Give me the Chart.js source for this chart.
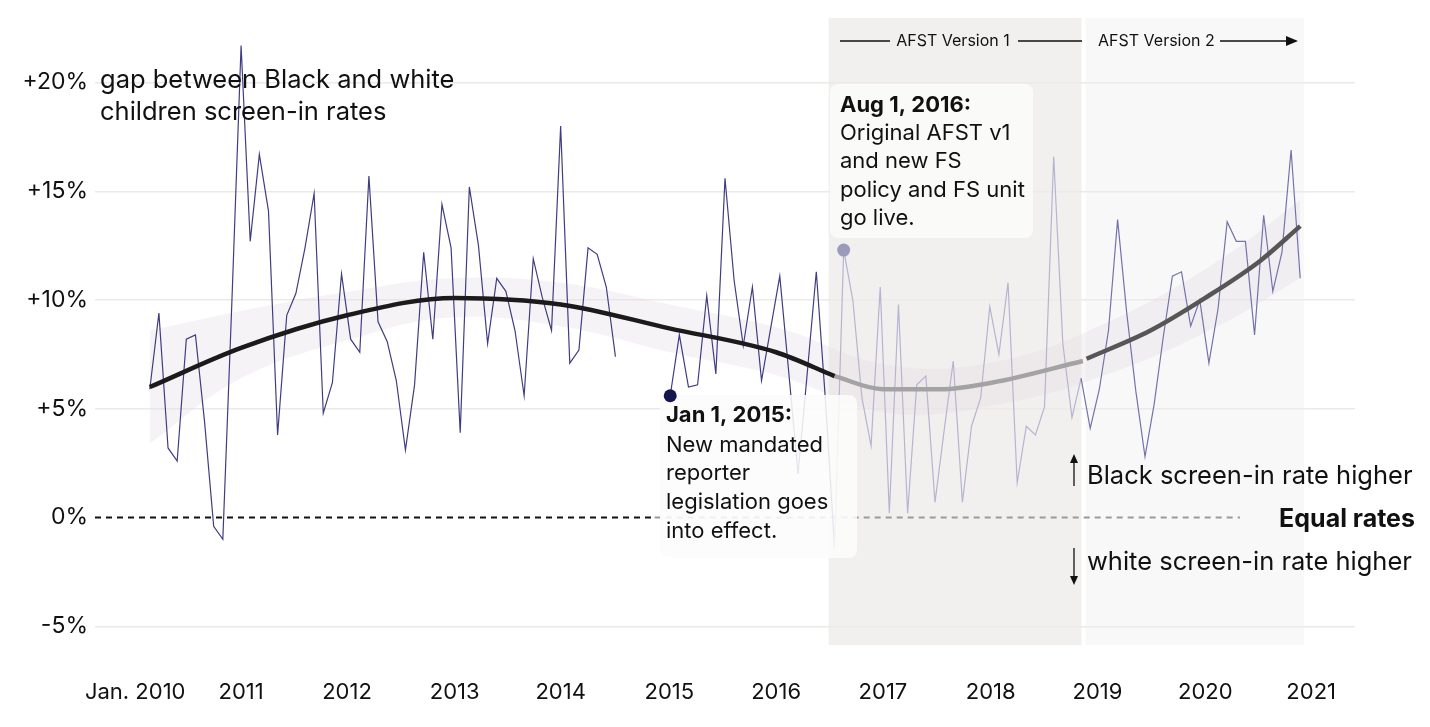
<!DOCTYPE html>
<html><head><meta charset="utf-8">
<script src="https://cdn.jsdelivr.net/npm/chart.js@4/dist/chart.umd.min.js"></script>
<style>html,body{margin:0;padding:0;background:#fff}#w{width:1430px;height:727px}</style>
</head><body><div id="w"><canvas id="c"></canvas></div>
<script>
// month index: 0 = Jan 2010
const early = [5.9,9.4,3.2,2.6,8.2,8.4,4.4,-0.4,-1.0,10.0,21.7,12.7,16.7,14.1,3.8,9.3,10.3,12.4,14.9,4.8,6.2,11.2,8.2,7.6,15.7,9.0,8.1,6.3,3.1,6.1,12.2,8.2,14.4,12.4,3.9,15.2,12.5,8.0,11.0,10.4,8.6,5.6,11.9,10.1,8.6,18.0,7.1,7.7,12.4,12.1,10.6,7.4]; // months 3..54
const earlyStart = 3;
const late = [5.6,8.4,6.0,6.1,10.2,6.6,15.6,10.9,7.9,10.6,6.3,8.7,11.1,6.6,2.0,6.6,11.3,5.4,-1.4,12.3,10.0,5.5,3.3,10.6,0.2,9.8,0.2,6.1,6.5,0.7,4.0,7.2,0.7,4.2,5.5,9.7,7.5,10.8,1.6,4.2,3.8,5.1,16.6,8.0,4.6,6.4,4.1,5.9,8.6,13.7,9.4,5.8,2.8,5.2,8.3,11.1,11.3,8.8,10.0,7.1,9.6,13.6,12.7,12.7,8.4,13.9,10.4,12.2,16.9,11.0]; // months 60..129
const lateStart = 60;
const trendA_x = [3,13,24.6,36.4,48,59.9,71.6,78];
const trendA_y = [6.0,7.8,9.3,10.1,9.8,8.7,7.6,6.5];
const trendB_x = [78,83.3,89.6,95.2,105.2];
const trendB_y = [6.5,5.9,5.9,6.2,7.2];
const trendC_x = [105.6,112.6,118.6,124.6,129];
const trendC_y = [7.3,8.6,10.1,11.8,13.4];
const band_x = [3,13,25,36,48,60,72,84,96,108,120,129];
const band_hi = [8.6,9.5,10.4,11.0,10.8,9.8,8.7,7.0,7.2,9.0,11.8,14.6];
const band_lo = [3.4,6.4,8.2,9.2,8.8,7.6,6.5,4.8,5.2,6.6,8.8,11.0];
const xTickLabels = ["Jan. 2010","2011","2012","2013","2014","2015","2016","2017","2018","2019","2020","2021"];
const xTickPos = [1.4,13.0,24.6,36.4,48.0,59.9,71.6,83.3,95.1,106.8,118.6,130.2];
const yTicks = [-5,0,5,10,15,20];
const yTickLabels = ["-5%","0%","+5%","+10%","+15%","+20%"];
const v1Start=78, v1End=105.05, v2Start=105.5, v2End=129;

const pts = (xs,ys)=>xs.map((x,i)=>({x,y:ys[i]}));
const gap = [];
early.forEach((v,i)=>gap.push({x:earlyStart+i,y:v}));
for(let m=earlyStart+early.length;m<lateStart;m++) gap.push({x:m,y:null});
late.forEach((v,i)=>gap.push({x:lateStart+i,y:v}));

const F = "Inter, 'Noto Sans', sans-serif";
const bgPlugin = {id:'bg', beforeDraw(ch){
  const {ctx,scales:{x}}=ch; const top=18,bot=645;
  ctx.save();
  ctx.fillStyle='#f1f0ef'; ctx.fillRect(x.getPixelForValue(v1Start)-6,top,x.getPixelForValue(v1End)-x.getPixelForValue(v1Start)+6,bot-top);
  ctx.fillStyle='#f8f8f9'; ctx.fillRect(x.getPixelForValue(v2Start),top,x.getPixelForValue(v2End)-x.getPixelForValue(v2Start)+4,bot-top);
  ctx.restore();
}};
function box(ctx,x,y,w,h){ctx.beginPath();ctx.roundRect(x,y,w,h,8);ctx.fill();}
const annPlugin = {id:'ann', afterDatasetsDraw(ch){
  const {ctx}=ch; ctx.save();
  ctx.fillStyle='rgba(250,250,249,0.88)'; box(ctx,830,84,203,154);
  ctx.fillStyle='rgba(252,252,252,0.88)'; box(ctx,660,395,197,163);
  ctx.fillStyle='#111'; ctx.textBaseline='middle'; ctx.textAlign='left';
  ctx.font="bold 22px "+F; ctx.fillText("Aug 1, 2016:",840,105);
  ctx.font="22px "+F; ["Original AFST v1","and new FS","policy and FS unit","go live."].forEach((t,i)=>ctx.fillText(t,840,133+i*28.6));
  ctx.font="bold 22px "+F; ctx.fillText("Jan 1, 2015:",666,415);
  ctx.font="22px "+F; ["New mandated","reporter","legislation goes","into effect."].forEach((t,i)=>ctx.fillText(t,666,445+i*28.7));
  const xs=ch.scales.x, ys=ch.scales.y;
  ctx.fillStyle='#16164e'; ctx.beginPath(); ctx.arc(xs.getPixelForValue(60),ys.getPixelForValue(late[0]),6.5,0,7); ctx.fill();
  ctx.fillStyle='#9c9aba'; ctx.beginPath(); ctx.arc(xs.getPixelForValue(79),ys.getPixelForValue(late[19]),6.5,0,7); ctx.fill();
  ctx.fillStyle='#111'; ctx.font="25.5px "+F;
  ctx.fillText("gap between Black and white",100,80); ctx.fillText("children screen-in rates",100,112);
  ctx.font="16px "+F; ctx.textAlign='center'; ctx.fillText("AFST Version 1",953,41);
  ctx.textAlign='left'; ctx.fillText("AFST Version 2",1098,41);
  ctx.strokeStyle='#111'; ctx.lineWidth=1.3; ctx.beginPath();
  ctx.moveTo(840,41);ctx.lineTo(890,41);ctx.moveTo(1018,41);ctx.lineTo(1082,41);ctx.moveTo(1220,41);ctx.lineTo(1288,41);ctx.stroke();
  ctx.fillStyle='#111'; ctx.beginPath(); ctx.moveTo(1298,41);ctx.lineTo(1286,36);ctx.lineTo(1286,46);ctx.closePath();ctx.fill();
  ctx.font="25.5px "+F; ctx.fillText("Black screen-in rate higher",1087,476); ctx.fillText("white screen-in rate higher",1087,562);
  ctx.font="bold 25px "+F; ctx.textAlign='right'; ctx.fillText("Equal rates",1415,519);
  ctx.beginPath(); ctx.moveTo(1074,486);ctx.lineTo(1074,460);ctx.moveTo(1074,548);ctx.lineTo(1074,578);ctx.stroke();
  ctx.beginPath();ctx.moveTo(1074,454);ctx.lineTo(1070,463);ctx.lineTo(1078,463);ctx.closePath();ctx.fill();
  ctx.beginPath();ctx.moveTo(1074,585);ctx.lineTo(1070,576);ctx.lineTo(1078,576);ctx.closePath();ctx.fill();
  ctx.restore();
}};

new Chart(document.getElementById('c'),{
  type:'line',
  data:{datasets:[
    {data:pts(band_x,band_lo),borderWidth:0,pointRadius:0,tension:0.4,fill:false,order:10},
    {data:pts(band_x,band_hi),borderWidth:0,pointRadius:0,tension:0.4,fill:'-1',backgroundColor:'rgba(228,222,228,0.35)',order:9},
    {data:[{x:-3,y:0},{x:58.3,y:0}],borderColor:'#111',borderWidth:2,borderDash:[6,5],pointRadius:0,order:5},
    {data:[{x:58.3,y:0},{x:122.4,y:0}],borderColor:'#9a9a9a',borderWidth:2,borderDash:[6,5],pointRadius:0,order:5},
    {data:gap,borderWidth:1.2,pointRadius:0,spanGaps:false,borderColor:'#3f3d82',order:3,
      segment:{borderColor:c=>c.p0.parsed.x>=105?'#7472aa':(c.p0.parsed.x>=78?'#b6b4d0':'#3f3d82')}},
    {data:pts(trendA_x,trendA_y),borderColor:'#1c1a1a',borderWidth:4.5,pointRadius:0,cubicInterpolationMode:'monotone',borderCapStyle:'butt',order:0},
    {data:pts(trendB_x,trendB_y),borderColor:'#a4a3a3',borderWidth:4.5,pointRadius:0,cubicInterpolationMode:'monotone',borderCapStyle:'butt',order:0},
    {data:pts(trendC_x,trendC_y),borderColor:'#575656',borderWidth:4.5,pointRadius:0,cubicInterpolationMode:'monotone',borderCapStyle:'butt',order:0}
  ]},
  options:{
    responsive:true,maintainAspectRatio:false,animation:false,
    layout:{padding:{top:18,right:75,left:0,bottom:0}},
    plugins:{legend:{display:false},tooltip:{enabled:false}},
    scales:{
      x:{type:'linear',min:-3,max:135,
        afterBuildTicks:s=>{s.ticks=xTickPos.map(v=>({value:v}));},
        afterFit:s=>{s.height=82;},
        grid:{display:false},border:{display:false},
        ticks:{autoSkip:false,maxRotation:0,padding:26,color:'#111',font:{family:F,size:22},
          callback:(v,i)=>xTickLabels[i]}},
      y:{min:-5.86,max:22.84,
        afterBuildTicks:s=>{s.ticks=yTicks.map(v=>({value:v}));},
        afterFit:s=>{s.width=95;},
        border:{display:false},
        grid:{color:c=>c.tick&&c.tick.value===0?'rgba(0,0,0,0)':'#ece9e7',lineWidth:1.5,drawTicks:false},
        ticks:{padding:7,color:'#111',font:{family:F,size:23},callback:(v,i)=>yTickLabels[i]}}
    }
  },
  plugins:[bgPlugin,annPlugin]
});
</script></body></html>
